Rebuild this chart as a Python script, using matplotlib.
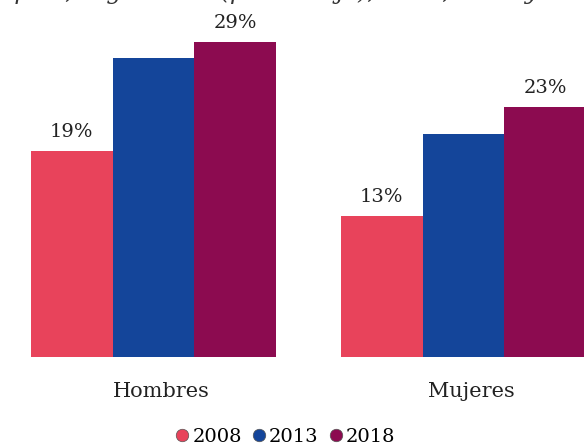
import numpy as np
import matplotlib.pyplot as plt
from matplotlib.transforms import ScaledTranslation

# datos
grupos = ["Hombres", "Mujeres"]
anios = ["2008", "2013", "2018"]
valores_2008 = [19, 13]
valores_2013 = [27.5, 20.5]
valores_2018 = [29, 23]
etiquetas_2008 = ["19%", "13%"]
etiquetas_2018 = ["29%", "23%"]
colores = ["#E8435B", "#14459A", "#8C0B50"]

plt.rcParams['font.family'] = ['DejaVu Serif']

fig = plt.figure(figsize=(5.84, 4.48), dpi=100)
ax = fig.add_axes([0, 91 / 448, 1, 357 / 448])

x = np.arange(len(grupos))
w = 0.2634
series = [valores_2008, valores_2013, valores_2018]
barras = []
for i, (vals, col) in enumerate(zip(series, colores)):
    b = ax.bar(x + (i - 1) * w, vals, width=w, color=col, label=anios[i])
    barras.append(b)

ax.bar_label(barras[0], labels=etiquetas_2008, padding=7, fontsize=14, color="#222222")
ax.bar_label(barras[2], labels=etiquetas_2018, padding=7, fontsize=14, color="#222222")

ax.set_xlim(-153.5 / 310, (584 - 153.5) / 310)
ax.set_ylim(0, 357 / 10.86)
ax.set_yticks([])
ax.set_xticks(x)
ax.set_xticklabels(grupos, fontsize=15, color="#222222")
ax.tick_params(axis="x", length=0, pad=18)
# las etiquetas de categoría están algo desplazadas a la derecha
for lbl in ax.get_xticklabels():
    lbl.set_transform(lbl.get_transform() + ScaledTranslation(0.08, 0, fig.dpi_scale_trans))
for s in ax.spines.values():
    s.set_visible(False)

# título cortado arriba (solo se ven los trazos inferiores)
fig.text(0.5, 1 + 1.5 / 448, "empleo, según sexo (porcentaje), 2008, 2013 y 2018",
         ha="center", va="baseline", fontsize=17, style="italic", color="#333333")

handles = [plt.Line2D([], [], marker="o", linestyle="", markersize=9,
                      markerfacecolor=c, markeredgecolor="#555555", markeredgewidth=0.5)
           for c in colores]
fig.legend(handles, anios, loc="center", bbox_to_anchor=(284 / 584, 1 - 437 / 448), ncol=3,
           frameon=False, fontsize=14, handletextpad=0.0, columnspacing=0.4,
           handlelength=1.0, borderpad=0)

plt.savefig("out.png", dpi=100)
